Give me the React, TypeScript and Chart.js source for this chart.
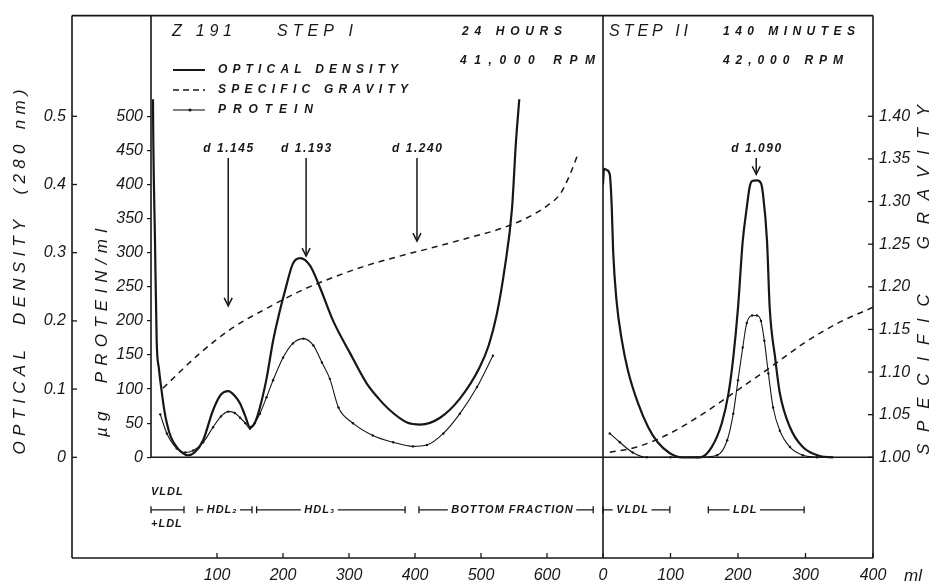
import { useEffect, useRef } from 'react';
import { Chart, registerables } from 'chart.js';

Chart.register(...registerables);

// ---------- data ----------
// Step I (24 h, 41,000 rpm)
const OD1_ML = [3, 3.5, 6, 8.6, 12, 16, 20, 24, 30, 39, 47, 56, 66, 79, 94, 106, 117, 127, 135, 143, 150, 157, 165, 175, 185, 194, 203, 215, 226, 241, 256, 276, 302, 327, 345, 362, 388, 408, 438, 468, 498, 512, 524, 536, 547, 553, 558];
const OD1 = [0.525, 0.463, 0.32, 0.171, 0.13, 0.098, 0.07, 0.05, 0.03, 0.015, 0.007, 0.003, 0.007, 0.025, 0.069, 0.092, 0.097, 0.09, 0.079, 0.06, 0.044, 0.05, 0.073, 0.115, 0.171, 0.21, 0.244, 0.284, 0.292, 0.281, 0.249, 0.2, 0.152, 0.108, 0.086, 0.069, 0.051, 0.048, 0.058, 0.086, 0.132, 0.165, 0.21, 0.278, 0.365, 0.463, 0.525];
const P1_ML = [14, 24, 39, 52, 64, 79, 94, 106, 117, 127, 135, 143, 150, 157, 165, 175, 185, 200, 215, 231, 246, 259, 271, 284, 306, 336, 367, 397, 418, 443, 468, 494, 518];
const P1 = [63, 35, 13, 7, 10, 22, 44, 60, 67, 65, 58, 50, 42, 50, 64, 88, 113, 146, 167, 174, 164, 139, 115, 73, 50, 32, 22, 16, 18, 35, 64, 103, 149];
const SG1_ML = [18, 74, 124, 176, 226, 276, 327, 377, 427, 479, 529, 570, 600, 620, 635, 647];
const SG1 = [1.081, 1.122, 1.152, 1.175, 1.195, 1.211, 1.225, 1.236, 1.246, 1.257, 1.268, 1.281, 1.295, 1.309, 1.332, 1.356];

// Step II (140 min, 42,000 rpm)
const OD2_ML = [0, 1.5, 6, 10, 13, 15, 20, 28, 37, 52, 67, 81, 99, 117, 130, 144, 161, 176, 186, 193, 200, 207, 213, 217, 221, 228, 234, 237, 243, 247, 255, 262, 277, 296, 321, 341];
const OD2 = [0.4, 0.423, 0.421, 0.415, 0.366, 0.303, 0.23, 0.171, 0.127, 0.079, 0.044, 0.022, 0.006, 0.0, 0.0, 0.0, 0.015, 0.05, 0.094, 0.146, 0.219, 0.317, 0.366, 0.395, 0.405, 0.406, 0.402, 0.386, 0.317, 0.219, 0.146, 0.094, 0.044, 0.015, 0.002, 0.0];
const P2_ML = [10, 25, 44, 65, 100, 140, 169, 184, 193, 200, 207, 213, 221, 228, 234, 239, 245, 252, 262, 277, 296, 317];
const P2 = [35, 22, 7, 0, 0, 0, 3, 25, 64, 113, 161, 197, 208, 208, 200, 171, 123, 73, 39, 15, 3, 0];
const SG2_ML = [10, 50, 99, 148, 198, 247, 296, 347, 400];
const SG2 = [1.006, 1.012, 1.028, 1.051, 1.078, 1.105, 1.133, 1.157, 1.176];

// tick labels
const X1_TICKS = [100, 200, 300, 400, 500, 600];
const X2_TICKS = [0, 100, 200, 300, 400];
const OD_TICKS = [0, 0.1, 0.2, 0.3, 0.4, 0.5];
const P_TICKS = [0, 50, 100, 150, 200, 250, 300, 350, 400, 450, 500];
const SG_TICKS = [1.0, 1.05, 1.1, 1.15, 1.2, 1.25, 1.3, 1.35, 1.4];

// density markers (arrows)
const ARROW_LABELS = ['d 1.145', 'd 1.193', 'd 1.240', 'd 1.090'];
const ARROW_ML = [117, 235, 403, 227];
const ARROW_PANEL = ['x1', 'x1', 'x1', 'x2'];
const ARROW_TIP_OD = [0.222, 0.295, 0.317, 0.415];

// fraction ranges
const RANGE_LABELS = ['', 'HDL₂', 'HDL₃', 'BOTTOM FRACTION', 'VLDL', 'LDL'];
const RANGE_FROM = [0, 70, 160, 406, 0, 156];
const RANGE_TO = [50, 153, 385, 670, 99, 298];
const RANGE_TEXT_AT = [25, 107, 255, 547, 43, 210];
const RANGE_PANEL = ['x1', 'x1', 'x1', 'x1', 'x2', 'x2'];

// axis ranges (0..0.5 OD spans the same height as 0..500 µg and 1.00..1.40 SG)
const P_MIN = -147.66;
const P_MAX = 647.66;

const INK = '#171717';
const FAMILY = '"Liberation Sans", "DejaVu Sans", Arial, sans-serif';

function drawText(ctx: CanvasRenderingContext2D, s: string, x: number, y: number, font: string, opts: any = {}) {
  const { align = 'left', width, rot = 0, spacing } = opts;
  ctx.save();
  ctx.font = font;
  (ctx as any).letterSpacing = '0px';
  let sp = spacing ?? 0;
  if (width != null) {
    const nat = ctx.measureText(s).width;
    sp = Math.max(0, (width - nat) / Math.max(1, s.length - 1));
  }
  (ctx as any).letterSpacing = sp + 'px';
  ctx.translate(x, y);
  if (rot) ctx.rotate(rot);
  ctx.textAlign = align;
  ctx.textBaseline = 'middle';
  ctx.fillStyle = INK;
  let dx = 0;
  if (align === 'center') dx = sp / 2;
  else if (align === 'right') dx = sp;
  ctx.fillText(s, dx, 0);
  const w = ctx.measureText(s).width;
  ctx.restore();
  return w;
}

function seg(ctx: CanvasRenderingContext2D, x1: number, y1: number, x2: number, y2: number) {
  ctx.beginPath();
  ctx.moveTo(x1, y1);
  ctx.lineTo(x2, y2);
  ctx.stroke();
}

const decor = {
  id: 'decor',
  afterDatasetsDraw(chart: any) {
    const { ctx, scales, chartArea: ca } = chart;
    const x1 = scales.x1, x2 = scales.x2, yOD = scales.yOD, yP = scales.yP, ySG = scales.ySG;
    const L = yOD.right;
    const base = yP.getPixelForValue(0);
    ctx.save();
    ctx.strokeStyle = INK;
    ctx.fillStyle = INK;
    ctx.lineCap = 'butt';
    ctx.lineWidth = 1.6;
    // frame
    seg(ctx, L, ca.top, ca.right, ca.top);
    seg(ctx, L, ca.top, L, ca.bottom);
    seg(ctx, L, ca.bottom, ca.right, ca.bottom);
    seg(ctx, ca.right, ca.top, ca.right, ca.bottom);
    // divider between the two steps
    seg(ctx, x2.left, ca.top, x2.left, ca.bottom);
    // protein axis and baseline
    seg(ctx, ca.left, ca.top, ca.left, base);
    seg(ctx, ca.left, base, ca.right, base);
    // inward ticks
    ctx.lineWidth = 1.3;
    OD_TICKS.forEach((v) => { const y = yOD.getPixelForValue(v); seg(ctx, L, y, L + 5, y); });
    SG_TICKS.forEach((v) => { const y = ySG.getPixelForValue(v); seg(ctx, ca.right - 5, y, ca.right, y); });
    X1_TICKS.forEach((v) => { const x = x1.getPixelForValue(v); seg(ctx, x, ca.bottom, x, ca.bottom - 5); });
    X2_TICKS.forEach((v) => { const x = x2.getPixelForValue(v); seg(ctx, x, ca.bottom, x, ca.bottom - 5); });

    // axis titles
    drawText(ctx, 'OPTICAL  DENSITY  (280 nm)', 20, 272, `italic 17px ${FAMILY}`, { align: 'center', width: 365, rot: -Math.PI / 2 });
    drawText(ctx, 'µg  PROTEIN/ml', 102, 333, `italic 17px ${FAMILY}`, { align: 'center', width: 208, rot: -Math.PI / 2 });
    drawText(ctx, 'SPECIFIC  GRAVITY', 924, 280, `italic 17px ${FAMILY}`, { align: 'center', width: 350, rot: -Math.PI / 2 });
    drawText(ctx, 'ml', 913, 576, `italic 17px ${FAMILY}`, { align: 'center' });

    // headers
    drawText(ctx, 'Z 191', 172, 32, `italic 16px ${FAMILY}`, { width: 60 });
    drawText(ctx, 'STEP I', 277, 32, `italic 16px ${FAMILY}`, { width: 76 });
    drawText(ctx, '24 HOURS', 462, 32, `italic bold 12px ${FAMILY}`, { width: 100 });
    drawText(ctx, '41,000 RPM', 460, 61, `italic bold 12px ${FAMILY}`, { width: 135 });
    drawText(ctx, 'STEP II', 609, 32, `italic 16px ${FAMILY}`, { width: 79 });
    drawText(ctx, '140 MINUTES', 723, 32, `italic bold 12px ${FAMILY}`, { width: 132 });
    drawText(ctx, '42,000 RPM', 723, 61, `italic bold 12px ${FAMILY}`, { width: 120 });

    // legend
    ctx.lineWidth = 2;
    seg(ctx, 173, 70, 205, 70);
    ctx.lineWidth = 1.5;
    ctx.setLineDash([6, 4]);
    seg(ctx, 173, 90, 205, 90);
    ctx.setLineDash([]);
    ctx.lineWidth = 1.1;
    seg(ctx, 173, 110, 205, 110);
    ctx.beginPath(); ctx.arc(190, 110, 1.6, 0, Math.PI * 2); ctx.fill();
    drawText(ctx, 'OPTICAL DENSITY', 218, 70, `italic bold 12px ${FAMILY}`, { width: 180 });
    drawText(ctx, 'SPECIFIC GRAVITY', 218, 90, `italic bold 12px ${FAMILY}`, { width: 190 });
    drawText(ctx, 'PROTEIN', 218, 110, `italic bold 12px ${FAMILY}`, { width: 95 });

    // density arrows
    ARROW_LABELS.forEach((lab, i) => {
      const xs = scales[ARROW_PANEL[i]];
      const x = xs.getPixelForValue(ARROW_ML[i]);
      const yTop = yOD.getPixelForValue(0.439);
      const yTip = yOD.getPixelForValue(ARROW_TIP_OD[i]);
      ctx.lineWidth = 1.5;
      seg(ctx, x, yTop, x, yTip);
      ctx.beginPath();
      ctx.moveTo(x - 4, yTip - 8);
      ctx.lineTo(x, yTip);
      ctx.lineTo(x + 4, yTip - 8);
      ctx.stroke();
      drawText(ctx, lab, x, yOD.getPixelForValue(0.453), `italic bold 12px ${FAMILY}`, { align: 'center', width: 50 });
    });

    // fraction ranges
    const yR = yP.getPixelForValue(-77);
    ctx.lineWidth = 1.3;
    RANGE_LABELS.forEach((lab, i) => {
      const xs = scales[RANGE_PANEL[i]];
      const a = xs.getPixelForValue(RANGE_FROM[i]);
      const b = xs.getPixelForValue(RANGE_TO[i]);
      seg(ctx, a, yR, b, yR);
      seg(ctx, a, yR - 3.5, a, yR + 3.5);
      seg(ctx, b, yR - 3.5, b, yR + 3.5);
      if (lab) {
        const c = xs.getPixelForValue(RANGE_TEXT_AT[i]);
        ctx.save();
        ctx.font = `italic bold 11px ${FAMILY}`;
        (ctx as any).letterSpacing = '1px';
        const w = ctx.measureText(lab).width;
        ctx.fillStyle = '#ffffff';
        ctx.fillRect(c - w / 2 - 3, yR - 7, w + 6, 14);
        ctx.restore();
        drawText(ctx, lab, c, yR, `italic bold 11px ${FAMILY}`, { align: 'center', spacing: 1 });
      }
    });
    const x0 = x1.getPixelForValue(RANGE_FROM[0]);
    drawText(ctx, 'VLDL', x0, yP.getPixelForValue(-51), `italic bold 11px ${FAMILY}`, { spacing: 1 });
    drawText(ctx, '+LDL', x0, yP.getPixelForValue(-98), `italic bold 11px ${FAMILY}`, { spacing: 1 });
    ctx.restore();
  },
};

const pts = (xs: number[], ys: number[]) => xs.map((x, i) => ({ x, y: ys[i] }));

const tickFont = { family: FAMILY, size: 16, style: 'italic' as const };

function buildConfig(): any {
  const odStyle = { borderColor: INK, borderWidth: 2.2, pointRadius: 0, cubicInterpolationMode: 'monotone', fill: false };
  const pStyle = { borderColor: INK, borderWidth: 1.1, pointRadius: 1.2, pointBackgroundColor: INK, pointBorderWidth: 0, cubicInterpolationMode: 'monotone', fill: false };
  const sgStyle = { borderColor: INK, borderWidth: 1.5, borderDash: [6, 5], pointRadius: 0, cubicInterpolationMode: 'monotone', fill: false };
  const xCommon = (ticks: number[]) => ({
    type: 'linear',
    position: 'bottom',
    stack: 'ml',
    afterBuildTicks: (s: any) => { s.ticks = ticks.map((v) => ({ value: v })); },
    afterFit: (s: any) => { s.height = 28; },
    grid: { display: false, drawTicks: false },
    border: { display: false },
    ticks: { font: tickFont, color: INK, padding: 8, maxRotation: 0, autoSkip: false, callback: (v: any) => String(v) },
  });
  return {
    type: 'line',
    data: {
      datasets: [
        { label: 'Optical density (Step I)', data: pts(OD1_ML, OD1), xAxisID: 'x1', yAxisID: 'yOD', ...odStyle },
        { label: 'Protein (Step I)', data: pts(P1_ML, P1), xAxisID: 'x1', yAxisID: 'yP', ...pStyle },
        { label: 'Specific gravity (Step I)', data: pts(SG1_ML, SG1), xAxisID: 'x1', yAxisID: 'ySG', ...sgStyle },
        { label: 'Optical density (Step II)', data: pts(OD2_ML, OD2), xAxisID: 'x2', yAxisID: 'yOD', ...odStyle },
        { label: 'Protein (Step II)', data: pts(P2_ML, P2), xAxisID: 'x2', yAxisID: 'yP', ...pStyle },
        { label: 'Specific gravity (Step II)', data: pts(SG2_ML, SG2), xAxisID: 'x2', yAxisID: 'ySG', ...sgStyle },
      ],
    },
    options: {
      responsive: false,
      animation: false,
      devicePixelRatio: 1,
      layout: { padding: { top: 14, left: 0, right: 0, bottom: 0 }, autoPadding: false },
      plugins: { legend: { display: false }, tooltip: { enabled: false } },
      scales: {
        x1: { ...xCommon(X1_TICKS), stackWeight: 452, min: 0, max: 684.85 },
        x2: { ...xCommon(X2_TICKS), stackWeight: 270, min: 0, max: 400 },
        yP: {
          type: 'linear', position: 'left', weight: 0, min: P_MIN, max: P_MAX,
          afterBuildTicks: (s: any) => { s.ticks = P_TICKS.map((v) => ({ value: v })); },
          afterFit: (s: any) => { s.width = 79; },
          grid: { display: true, drawOnChartArea: false, drawTicks: true, tickLength: 4, color: INK, lineWidth: 1.2 },
          border: { display: false },
          ticks: { font: tickFont, color: INK, padding: 4, callback: (v: any) => String(v) },
        },
        yOD: {
          type: 'linear', position: 'left', weight: 1, min: P_MIN / 1000, max: P_MAX / 1000,
          afterBuildTicks: (s: any) => { s.ticks = OD_TICKS.map((v) => ({ value: v })); },
          afterFit: (s: any) => { s.width = 72; },
          grid: { display: false, drawTicks: false },
          border: { display: false },
          ticks: { font: tickFont, color: INK, padding: 6, callback: (v: any) => (Number(v) === 0 ? '0' : Number(v).toFixed(1)) },
        },
        ySG: {
          type: 'linear', position: 'right', min: 1 + (P_MIN / 1000) * 0.8, max: 1 + (P_MAX / 1000) * 0.8,
          afterBuildTicks: (s: any) => { s.ticks = SG_TICKS.map((v) => ({ value: v })); },
          afterFit: (s: any) => { s.width = 67; },
          grid: { display: false, drawTicks: false },
          border: { display: false },
          ticks: { font: tickFont, color: INK, padding: 6, callback: (v: any) => Number(v).toFixed(2) },
        },
      },
    },
    plugins: [decor],
  };
}

export default function App() {
  const ref = useRef<HTMLCanvasElement>(null);
  useEffect(() => {
    document.body.style.margin = '0';
    const chart = new Chart(ref.current as HTMLCanvasElement, buildConfig());
    return () => chart.destroy();
  }, []);
  return (
    <div style={{ width: 940, height: 586, background: '#ffffff', overflow: 'hidden' }}>
      <canvas ref={ref} width={940} height={586} style={{ display: 'block' }} />
    </div>
  );
}
